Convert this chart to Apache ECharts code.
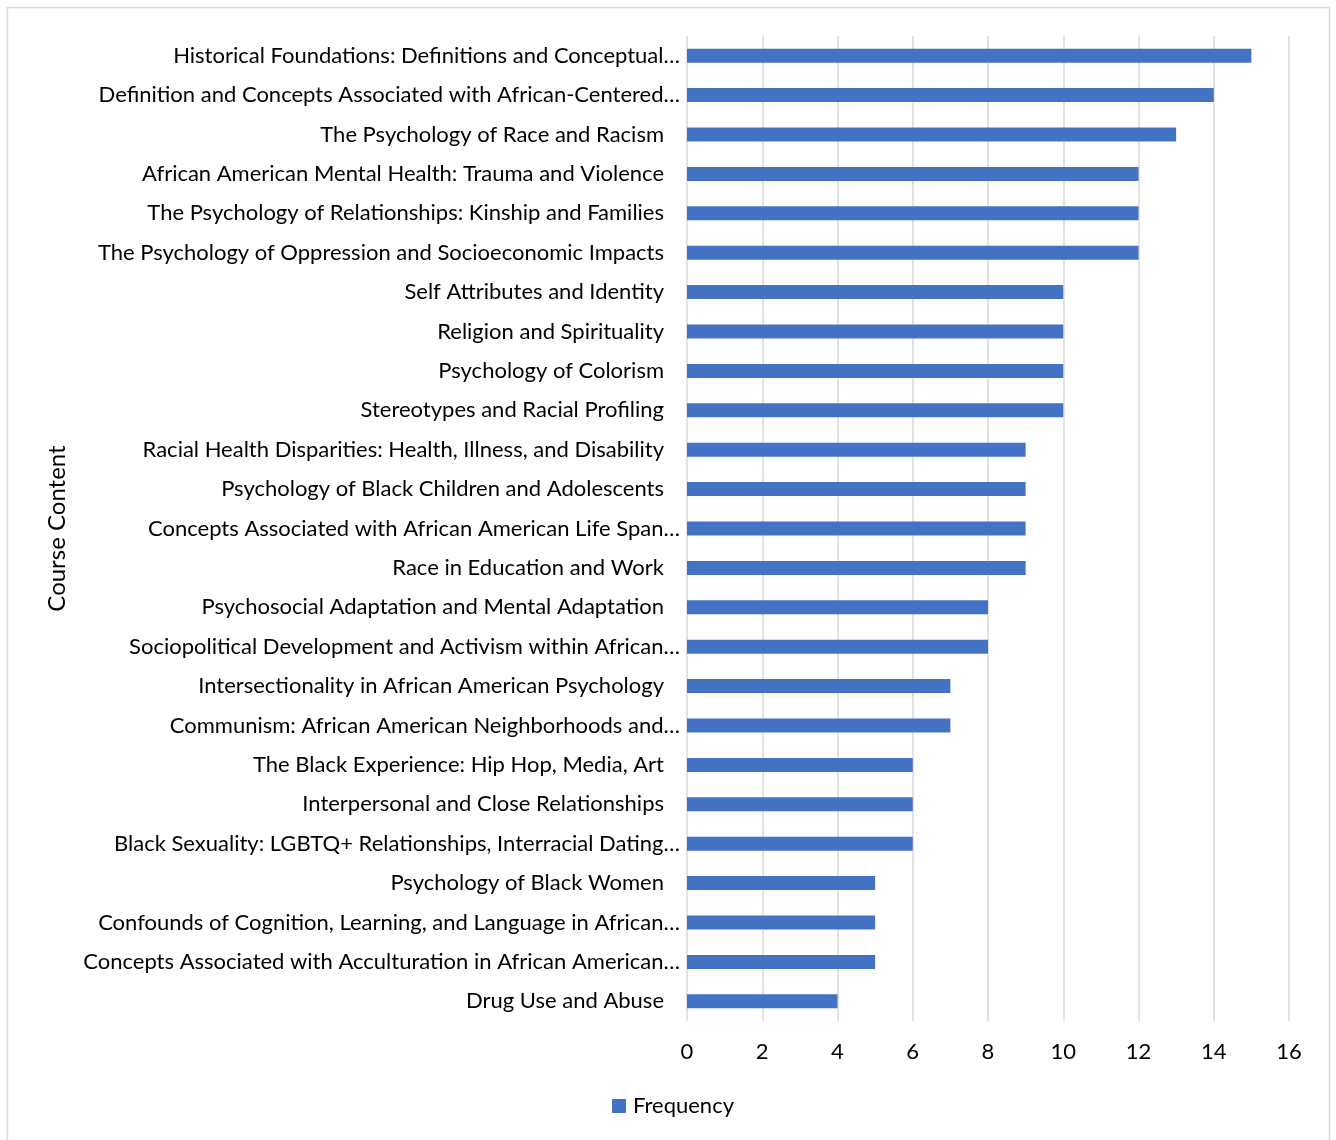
<!DOCTYPE html>
<html>
<head>
<meta charset="utf-8">
<script src="https://cdn.jsdelivr.net/npm/echarts@6/dist/echarts.min.js"></script>
<style>
html,body{margin:0;padding:0;background:#fff;}
#c{width:1336px;height:1140px;}
</style>
</head>
<body>
<div id="c"></div>
<script>
const categories = [
  "Historical Foundations: Definitions and Conceptual…",
  "Definition and Concepts Associated with African-Centered…",
  "The Psychology of Race and Racism",
  "African American Mental Health: Trauma and Violence",
  "The Psychology of Relationships: Kinship and Families",
  "The Psychology of Oppression and Socioeconomic Impacts",
  "Self Attributes and Identity",
  "Religion and Spirituality",
  "Psychology of Colorism",
  "Stereotypes and Racial Profiling",
  "Racial Health Disparities: Health, Illness, and Disability",
  "Psychology of Black Children and Adolescents",
  "Concepts Associated with African American Life Span…",
  "Race in Education and Work",
  "Psychosocial Adaptation and Mental Adaptation",
  "Sociopolitical Development and Activism within African…",
  "Intersectionality in African American Psychology",
  "Communism: African American Neighborhoods and…",
  "The Black Experience: Hip Hop, Media, Art",
  "Interpersonal and Close Relationships",
  "Black Sexuality: LGBTQ+ Relationships, Interracial Dating…",
  "Psychology of Black Women",
  "Confounds of Cognition, Learning, and Language in African…",
  "Concepts Associated with Acculturation in African American…",
  "Drug Use and Abuse"
];
const frequency = [15,14,13,12,12,12,10,10,10,10,9,9,9,9,8,8,7,7,6,6,6,5,5,5,4];
const seriesName = "Frequency";
const axisTitle = "Course Content";

const FONT = "Lato";
const chart = echarts.init(document.getElementById('c'), null, {renderer:'canvas'});
chart.setOption({
  animation:false,
  backgroundColor:'#fff',
  graphic:[{
    type:'rect', shape:{x:7.5,y:7.5,width:1322,height:1150},
    style:{fill:'none',stroke:'#d9d9d9',lineWidth:1.5}, silent:true, z:-10
  }],
  grid:{left:687,right:47,top:36,bottom:119,containLabel:false},
  xAxis:{
    type:'value', min:0, max:16, interval:2,
    axisLine:{show:false}, axisTick:{show:false},
    splitLine:{show:true,lineStyle:{color:'#d9d9d9',width:1.5}},
    axisLabel:{fontFamily:FONT,fontSize:22,color:'#000',margin:20}
  },
  yAxis:{
    type:'category', data:categories, inverse:true,
    axisLine:{show:false}, axisTick:{show:false},
    name:axisTitle, nameLocation:'middle', nameRotate:90, nameGap:618,
    nameTextStyle:{fontFamily:FONT,fontSize:24,color:'#000'},
    axisLabel:{
      margin:7, interval:0,
      formatter:function(v){ return v.endsWith('…') ? '{t|'+v+'}' : '{n|'+v+'}'; },
      rich:{
        t:{fontFamily:FONT,fontSize:22,color:'#000'},
        n:{fontFamily:FONT,fontSize:22,color:'#000',padding:[0,16,0,0]}
      }
    }
  },
  legend:{
    data:[seriesName], bottom:18, left:607,
    itemWidth:14, itemHeight:14, icon:'rect', itemGap:6,
    textStyle:{fontFamily:FONT,fontSize:22,color:'#000',padding:[0,0,0,2]}
  },
  series:[{
    name:seriesName, type:'bar', data:frequency, barWidth:14,
    itemStyle:{color:'#4472c4'}
  }]
});
</script>
</body>
</html>
